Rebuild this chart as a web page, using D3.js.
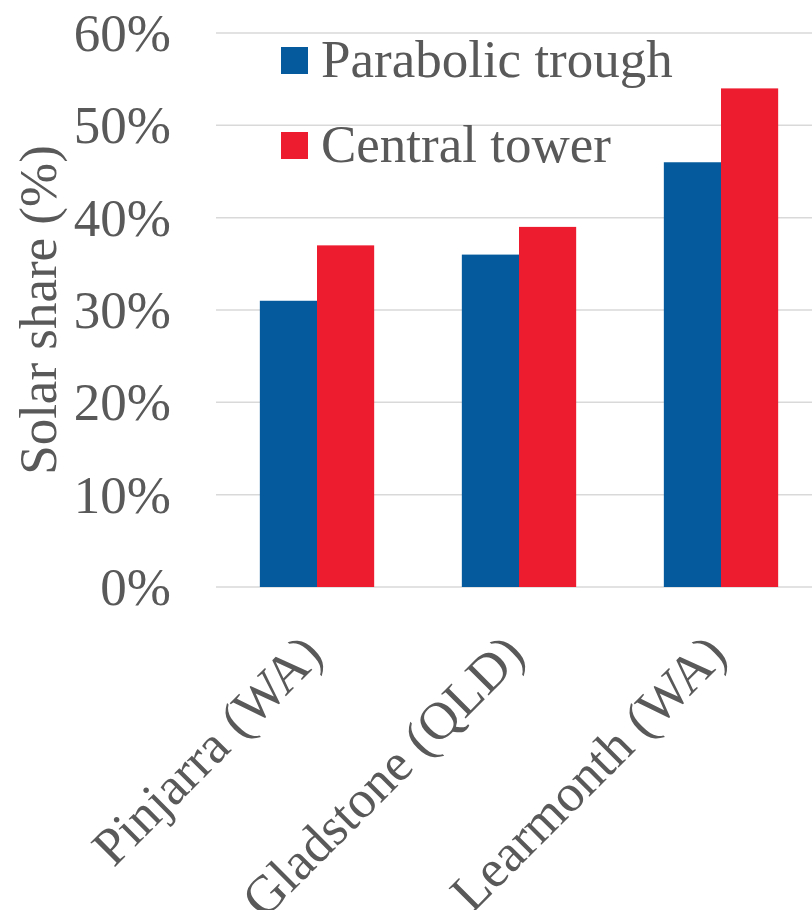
<!DOCTYPE html>
<html>
<head>
<meta charset="utf-8">
<script src="https://cdn.jsdelivr.net/npm/d3@7"></script>
<style>
  html, body { margin: 0; padding: 0; background: #ffffff; }
  svg { display: block; }
  text { font-family: "Liberation Serif", "Times New Roman", serif; fill: #595959; }
</style>
</head>
<body>
<script>
// Solar share by site and CSP technology
const sites = ["Pinjarra (WA)", "Gladstone (QLD)", "Learmonth (WA)"];
const seriesNames = ["Parabolic trough", "Central tower"];
const parabolicTrough = [31, 36, 46];
const centralTower = [37, 39, 54];
const yTicks = [0, 10, 20, 30, 40, 50, 60];
const seriesColors = ["#045A9C", "#ED1C2E"];

const W = 812, H = 910;
const FONT = 53;
const svg = d3.select("body").append("svg").attr("width", W).attr("height", H);

const plot = { left: 216, right: 822, top: 33, bottom: 587 };

const y = d3.scaleLinear().domain([0, 60]).range([plot.bottom, plot.top]);
const x0 = d3.scaleBand().domain(sites).range([plot.left, plot.right])
  .paddingInner(0.434).paddingOuter(0.217);
const x1 = d3.scaleBand().domain(seriesNames).range([0, x0.bandwidth()]);

// Horizontal gridlines
svg.append("g").selectAll("line").data(yTicks).join("line")
  .attr("x1", plot.left).attr("x2", W + 20)
  .attr("y1", d => y(d)).attr("y2", d => y(d))
  .attr("stroke", "#d9d9d9").attr("stroke-width", 1.5);

// Y axis tick labels
const yAxis = d3.axisLeft(y).tickValues(yTicks).tickFormat(d => d + "%").tickSize(0).tickPadding(0);
const gy = svg.append("g").attr("transform", "translate(171,0)").call(yAxis);
gy.select(".domain").remove();
gy.selectAll("text")
  .attr("font-size", FONT)
  .attr("font-family", "Liberation Serif, Times New Roman, serif")
  .attr("fill", "#595959")
  .attr("dy", "0.33em");

// Y axis title
svg.append("text")
  .attr("transform", `translate(56,${(plot.top + plot.bottom) / 2}) rotate(-90)`)
  .attr("text-anchor", "middle")
  .attr("font-size", FONT)
  .text("Solar share (%)");

// Bars
const rows = sites.map((s, i) => ({ site: s, values: [parabolicTrough[i], centralTower[i]] }));
const groups = svg.append("g").selectAll("g").data(rows).join("g")
  .attr("transform", d => `translate(${x0(d.site)},0)`);
groups.selectAll("rect")
  .data(d => d.values.map((v, k) => ({ key: seriesNames[k], value: v, k })))
  .join("rect")
  .attr("x", d => x1(d.key))
  .attr("width", x1.bandwidth())
  .attr("y", d => y(d.value))
  .attr("height", d => y(0) - y(d.value))
  .attr("fill", d => seriesColors[d.k]);

// Category labels, rotated
svg.append("g").selectAll("text").data(sites).join("text")
  .attr("transform", d => `translate(${x0(d) + x0.bandwidth() / 2 + 8},657) rotate(-45)`)
  .attr("text-anchor", "end")
  .attr("font-size", FONT)
  .text(d => d);

// Legend
const legend = svg.append("g").selectAll("g").data(seriesNames).join("g")
  .attr("transform", (d, i) => `translate(281,${47 + i * 85})`);
legend.append("rect").attr("width", 27).attr("height", 27)
  .attr("fill", (d, i) => seriesColors[i]);
legend.append("text").attr("x", 40).attr("y", 30)
  .attr("font-size", FONT)
  .text(d => d);
</script>
</body>
</html>
